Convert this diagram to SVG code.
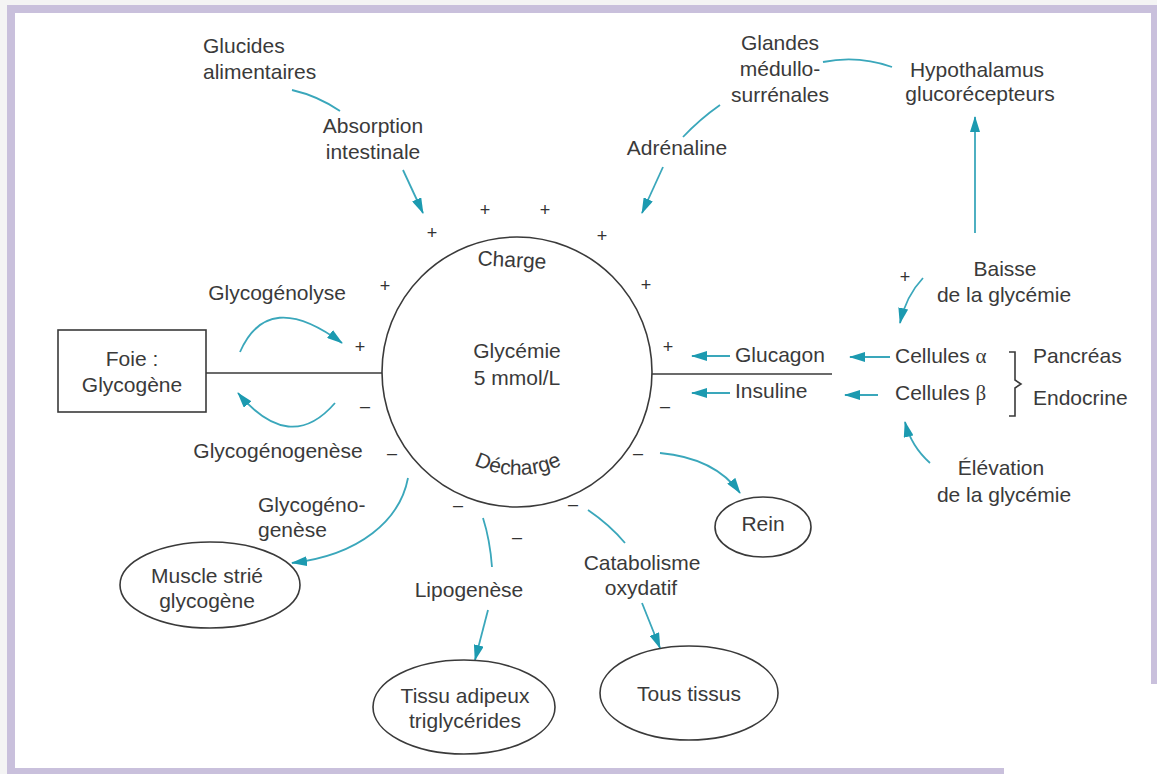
<svg xmlns="http://www.w3.org/2000/svg" width="1157" height="774" viewBox="0 0 1157 774">
<defs>
<style>
text{font-family:"Liberation Sans",Arial,sans-serif;font-size:21px;fill:#3a3a3a}
.m{text-anchor:middle}
.s{text-anchor:start}
.sg{font-size:18px;text-anchor:middle;fill:#333}
.shape{fill:none;stroke:#3a3a3a;stroke-width:1.6}
.c{fill:none;stroke:#3aa7bb;stroke-width:1.8}
.a{marker-end:url(#ah)}
.band{fill:#c9c0dc}
.gr{font-family:"Liberation Serif",serif}
</style>
<marker id="ah" markerUnits="userSpaceOnUse" markerWidth="16" markerHeight="10" refX="15" refY="5" orient="auto">
<path d="M0,0 L16,5 L0,10 Z" fill="#1c9ab0"/>
</marker>
<path id="arcBot" d="M415,372 A103,103 0 0 0 621,372"/>
</defs>
<rect width="1157" height="774" fill="#ffffff"/>
<rect x="0" y="0" width="7" height="774" fill="#f4f4f4"/>
<rect x="0" y="0" width="1157" height="5" fill="#f4f4f4"/>
<g id="frame">
<rect class="band" x="7" y="5" width="8" height="769"/>
<rect class="band" x="7" y="5" width="1150" height="8"/>
<rect class="band" x="1151" y="5" width="6" height="679"/>
<rect class="band" x="7" y="768" width="997" height="6"/>
</g>

<g id="connectors">
<path class="shape" d="M206,373 L382,373"/>
<path class="shape" d="M652,374 L832,374"/>
<path class="c" d="M292,90 Q318,96 340,111"/>
<path class="c a" d="M403,170 L423,213"/>
<path class="c" d="M720,105 Q700,119 683,137"/>
<path class="c a" d="M663,167 L642,213"/>
<path class="c" d="M823,62 Q858,55 892,67"/>
<path class="c a" d="M975,233 L975,117"/>
<path class="c a" d="M923,278 Q906,296 900,323"/>
<path class="c a" d="M930,463 Q911,446 905,422"/>
<path class="c a" d="M730,356 L692,356"/>
<path class="c a" d="M890,357 L850,357"/>
<path class="c a" d="M730,393 L692,393"/>
<path class="c a" d="M878,395 L845,395"/>
<path class="c a" d="M240,352 Q268,288 342,343"/>
<path class="c a" d="M335,403 Q290,455 238,393"/>
<path class="c a" d="M408,478 C400,520 360,555 292,563"/>
<path class="c" d="M483,518 Q490,540 492,567"/>
<path class="c a" d="M488,610 L475,660"/>
<path class="c" d="M588,510 Q610,525 625,543"/>
<path class="c a" d="M642,603 L660,648"/>
<path class="c a" d="M660,453 Q715,458 740,493"/>
<path class="shape" d="M1009,352 L1015,352 L1015,380 L1021,384 L1015,388 L1015,416 L1009,416"/>
</g>

<g id="signs">
<text class="sg" x="432" y="239">+</text>
<text class="sg" x="485" y="216">+</text>
<text class="sg" x="545" y="216">+</text>
<text class="sg" x="602" y="242">+</text>
<text class="sg" x="646" y="291">+</text>
<text class="sg" x="385" y="292">+</text>
<text class="sg" x="360" y="353">+</text>
<text class="sg" x="668" y="353">+</text>
<text class="sg" x="905" y="283">+</text>
<text class="sg" x="365" y="412">–</text>
<text class="sg" x="665" y="412">–</text>
<text class="sg" x="392" y="459">–</text>
<text class="sg" x="638" y="459">–</text>
<text class="sg" x="458" y="511">–</text>
<text class="sg" x="517" y="543">–</text>
<text class="sg" x="573" y="510">–</text>
</g>

<g id="glycemie">
<circle class="shape" cx="517" cy="372" r="135"/>
<text class="m" x="517" y="358">Glycémie</text>
<text class="m" x="517" y="385">5 mmol/L</text>
<text class="m" x="512" y="267" transform="rotate(3 512 260)">Charge</text>
<text class="m"><textPath href="#arcBot" startOffset="50%">Décharge</textPath></text>
</g>

<g id="glucides">
<text class="s" x="203" y="53">Glucides</text>
<text class="s" x="203" y="79">alimentaires</text>
</g>
<g id="absorption">
<text class="m" x="373" y="133">Absorption</text>
<text class="m" x="373" y="159">intestinale</text>
</g>
<g id="glandes">
<text class="m" x="780" y="50">Glandes</text>
<text class="m" x="780" y="76">médullo-</text>
<text class="m" x="780" y="102">surrénales</text>
</g>
<g id="hypothalamus">
<text class="m" x="977" y="77">Hypothalamus</text>
<text class="m" x="980" y="101">glucorécepteurs</text>
</g>
<g id="adrenaline">
<text class="m" x="677" y="155">Adrénaline</text>
</g>
<g id="baisse">
<text class="m" x="1005" y="276">Baisse</text>
<text class="m" x="1004" y="302">de la glycémie</text>
</g>
<g id="glycogenolyse">
<text class="m" x="277" y="300">Glycogénolyse</text>
</g>
<g id="foie">
<rect class="shape" x="58" y="330" width="148" height="82"/>
<text class="m" x="132" y="366">Foie :</text>
<text class="m" x="132" y="392">Glycogène</text>
</g>
<g id="glucagon">
<text class="s" x="735" y="362">Glucagon</text>
</g>
<g id="insuline">
<text class="s" x="735" y="398">Insuline</text>
</g>
<g id="cellules-alpha">
<text class="s" x="895" y="363">Cellules <tspan class="gr">α</tspan></text>
</g>
<g id="cellules-beta">
<text class="s" x="895" y="400">Cellules <tspan class="gr">β</tspan></text>
</g>
<g id="pancreas">
<text class="s" x="1033" y="363">Pancréas</text>
<text class="s" x="1033" y="405">Endocrine</text>
</g>
<g id="glycogenogenese">
<text class="m" x="278" y="458">Glycogénogenèse</text>
</g>
<g id="elevation">
<text class="m" x="1001" y="475">Élévation</text>
<text class="m" x="1004" y="502">de la glycémie</text>
</g>
<g id="glycogeno-genese">
<text class="s" x="258" y="512">Glycogéno-</text>
<text class="s" x="258" y="537">genèse</text>
</g>
<g id="rein">
<ellipse class="shape" cx="763" cy="527" rx="48" ry="30"/>
<text class="m" x="763" y="531">Rein</text>
</g>
<g id="catabolisme">
<text class="m" x="642" y="570">Catabolisme</text>
<text class="m" x="641" y="595">oxydatif</text>
</g>
<g id="lipogenese">
<text class="m" x="469" y="597">Lipogenèse</text>
</g>
<g id="muscle">
<ellipse class="shape" cx="210" cy="585" rx="90" ry="43"/>
<text class="m" x="207" y="583">Muscle strié</text>
<text class="m" x="207" y="608">glycogène</text>
</g>
<g id="adipeux">
<ellipse class="shape" cx="464" cy="707" rx="91" ry="47"/>
<text class="m" x="465" y="703">Tissu adipeux</text>
<text class="m" x="465" y="728">triglycérides</text>
</g>
<g id="tous-tissus">
<ellipse class="shape" cx="689" cy="693" rx="89" ry="47"/>
<text class="m" x="689" y="701">Tous tissus</text>
</g>
</svg>
